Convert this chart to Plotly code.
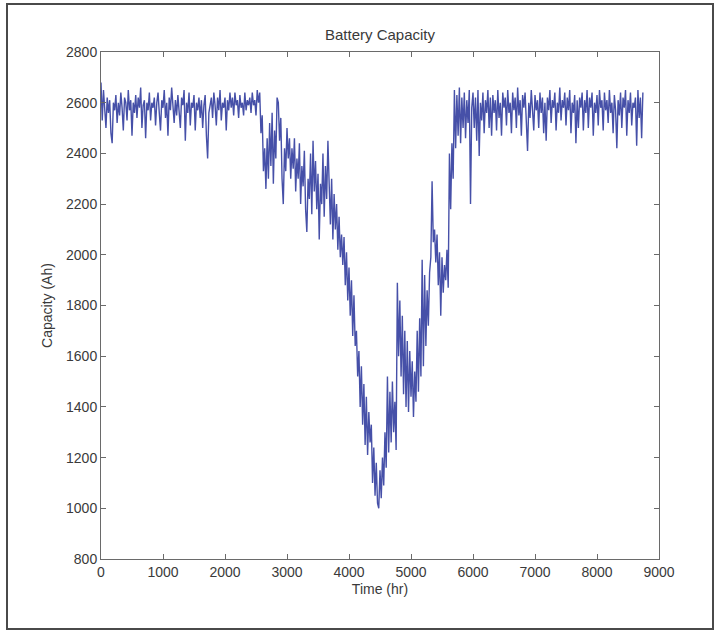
import plotly.graph_objects as go

# Time step of the sampled series (hours)
time_step = 20

capacity = [
    2680, 2530, 2650, 2590, 2500, 2620, 2560, 2610, 2480, 2440, 2600, 2570, 2630, 2520, 2600,
    2550, 2640, 2580, 2490, 2620, 2600, 2530, 2650, 2570, 2610, 2470, 2600, 2560, 2630, 2540,
    2620, 2580, 2660, 2500, 2590, 2610, 2460, 2600, 2570, 2640, 2530, 2600, 2580, 2620, 2510,
    2600, 2640, 2560, 2490, 2610, 2580, 2650, 2540, 2600, 2470, 2620, 2570, 2660, 2590, 2520,
    2610, 2550, 2630, 2580, 2500, 2620, 2590, 2650, 2450, 2600, 2560, 2640, 2510, 2600, 2580,
    2630, 2490, 2600, 2570, 2620, 2540, 2610, 2500, 2590, 2630, 2470, 2380, 2560, 2600, 2620,
    2540, 2640, 2590, 2510, 2620, 2570, 2650, 2530, 2600, 2580, 2620, 2490, 2610, 2570, 2640,
    2580, 2620, 2550, 2640, 2590, 2610, 2540, 2630, 2580, 2600, 2550, 2640, 2570, 2610, 2590,
    2620, 2560, 2640, 2590, 2610, 2550, 2650, 2600, 2640, 2480, 2550, 2330, 2420, 2260, 2460,
    2300, 2520, 2350, 2560, 2280, 2490, 2380, 2620, 2600, 2450, 2540, 2300, 2200, 2420, 2330,
    2500, 2380, 2460, 2300, 2420, 2340, 2460, 2250, 2380, 2300, 2440, 2200, 2350, 2270, 2410,
    2180, 2090, 2300, 2220, 2400, 2160, 2450, 2250, 2370, 2180, 2320, 2060, 2280, 2200, 2400,
    2150, 2350, 2220, 2450, 2280, 2120, 2300, 2060, 2240, 2100, 2200, 2020, 2150, 1990, 2080,
    1960, 2070, 1880, 2010, 1820, 1950, 1760, 1900, 1680, 1840, 1640, 1700, 1520, 1620, 1400,
    1560, 1330, 1490, 1250, 1440, 1210, 1380, 1260, 1330, 1100, 1240, 1050, 1180, 1020, 1000,
    1150, 1040, 1200, 1090, 1300, 1160, 1520, 1220, 1460, 1260, 1500, 1300, 1420, 1230, 1890,
    1600, 1820, 1520, 1760, 1450, 1700, 1400, 1660, 1380, 1620, 1440, 1580, 1360, 1540, 1420,
    1700, 1460, 1750, 1520, 1980, 1560, 1920, 1640, 1860, 1720, 1930, 1990, 2290, 2050, 2100,
    1970, 2080, 1880, 2010, 1760, 1990, 1850, 1960, 1900, 2020, 1870, 2400, 2180, 2440, 2300,
    2650, 2420, 2630, 2470, 2660, 2440, 2620, 2500, 2640, 2460, 2610, 2520, 2650, 2200, 2580,
    2640, 2500, 2620, 2450, 2650, 2390, 2600, 2530, 2640, 2480, 2610, 2560, 2650, 2500, 2620,
    2470, 2630, 2560, 2610, 2490, 2650, 2540, 2600, 2470, 2640, 2580, 2620, 2510, 2650, 2560,
    2600, 2480, 2640, 2570, 2620, 2500, 2660, 2550, 2610, 2470, 2630, 2580, 2640, 2520, 2410,
    2600, 2540, 2650, 2580, 2490, 2630, 2570, 2610, 2500, 2640, 2560, 2620, 2480, 2600, 2450,
    2620, 2570, 2650, 2520, 2610, 2580, 2640, 2490, 2600, 2560, 2660, 2530, 2610, 2580, 2640,
    2510, 2620, 2570, 2650, 2480, 2600, 2560, 2630, 2440, 2610, 2500, 2620, 2580, 2640, 2490,
    2610, 2560, 2650, 2500, 2620, 2580, 2640, 2470, 2600, 2560, 2630, 2510, 2650, 2580, 2610,
    2490, 2640, 2570, 2610, 2520, 2650, 2560, 2600, 2480, 2630, 2570, 2420, 2610, 2550, 2640,
    2500, 2620, 2580, 2650, 2470, 2610, 2560, 2640, 2510, 2600, 2580, 2620, 2430, 2650, 2540,
    2620, 2460, 2640,
]
time_hr = [i * time_step for i in range(len(capacity))]

x_ticks = [0, 1000, 2000, 3000, 4000, 5000, 6000, 7000, 8000, 9000]
y_ticks = [800, 1000, 1200, 1400, 1600, 1800, 2000, 2200, 2400, 2600, 2800]

FONT = "Liberation Sans, Arial, Helvetica, sans-serif"
TXT = "#3a3a3a"

fig = go.Figure()
fig.add_trace(go.Scatter(
    x=time_hr, y=capacity, mode="lines",
    line=dict(color="#4650a8", width=1.4),
    showlegend=False,
))

axis_common = dict(
    showgrid=False, zeroline=False, showline=True, linecolor="#6a6a6a",
    linewidth=1, mirror="ticks", ticks="inside", ticklen=5,
    tickcolor="#6a6a6a", tickfont=dict(family=FONT, size=14, color=TXT),
)

fig.update_layout(
    width=718, height=632,
    margin=dict(l=101, r=59, t=52, b=73),
    paper_bgcolor="white", plot_bgcolor="white",
    title=dict(text="Battery Capacity", x=(380 - 0) / 718, xanchor="center",
               y=1 - 35 / 632, yanchor="middle",
               font=dict(family=FONT, size=15, color=TXT)),
    xaxis=dict(range=[0, 9000], tickvals=x_ticks,
               title=dict(text="Time (hr)", font=dict(family=FONT, size=14, color=TXT), standoff=5),
               **axis_common),
    yaxis=dict(range=[800, 2800], tickvals=y_ticks,
               title=dict(text="Capacity (Ah)", font=dict(family=FONT, size=14, color=TXT), standoff=10),
               **axis_common),
    shapes=[dict(type="rect", xref="paper", yref="paper",
                 x0=(7 - 101) / 558, x1=(713 - 101) / 558,
                 y0=(559 - 629) / 507, y1=(559 - 4) / 507,
                 line=dict(color="#4a4a4a", width=2), fillcolor="rgba(0,0,0,0)",
                 layer="below")],
)

fig.write_html("out.html", config={"displayModeBar": False},
               post_script="document.body.style.margin='0';document.body.style.overflow='hidden';")
